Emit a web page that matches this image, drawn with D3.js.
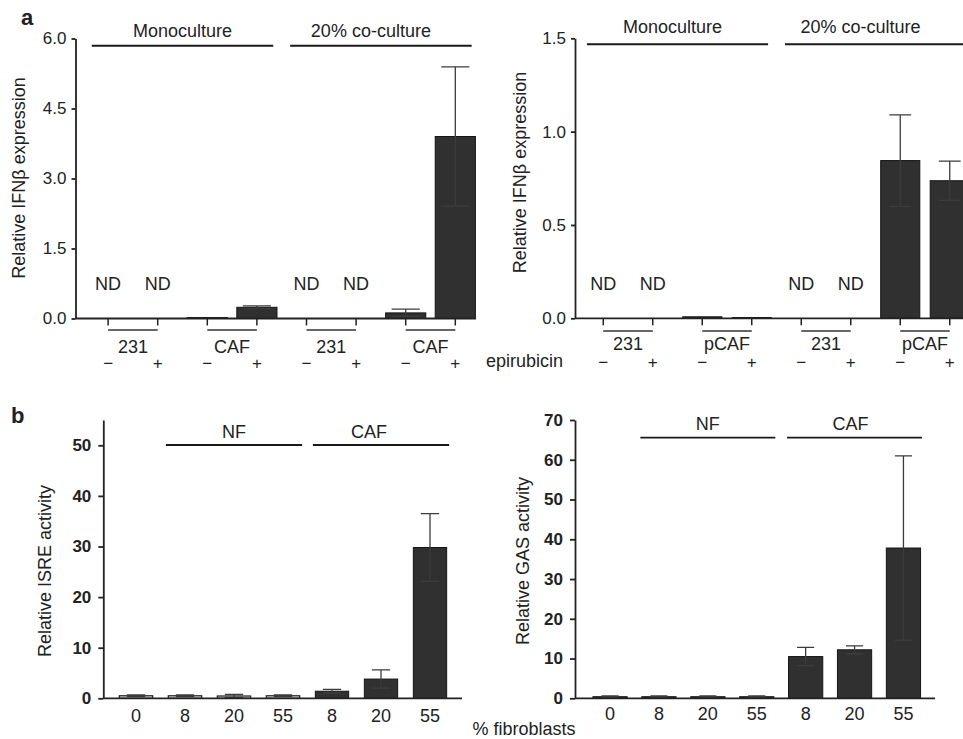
<!DOCTYPE html>
<html>
<head>
<meta charset="utf-8">
<title>IFNβ expression, ISRE and GAS activity</title>
<script src="https://cdn.jsdelivr.net/npm/d3@7"></script>
<style>
  body { margin: 0; background: #fff; }
  svg text { font-family: "Liberation Sans", Arial, sans-serif; fill: #222; }
  .bar { fill: #2f302f; stroke: #151515; stroke-width: 1; }
  .bar.light { fill: #e6e6e6; stroke: #2a2a2a; stroke-width: 1.3; }
  .err { stroke: #3c3c3c; stroke-width: 1.3; fill: none; }
  .axis path, .axis line { stroke: #222; stroke-width: 1.8; }
  .axis text { font-size: 17px; fill: #222; }
  .bold text { font-weight: bold; }
</style>
</head>
<body>
<svg id="chart" width="963" height="739"></svg>
<script>
// ---- panel a: IFNb expression (null = ND, not detected)
var aCells = ["231", "CAF", "231", "CAF"];
var aCellsP = ["231", "pCAF", "231", "pCAF"];
var aTreat = ["\u2212", "+"];
var aCulture = ["Monoculture", "20% co-culture"];
var aTicksLeft = [0, 1.5, 3, 4.5, 6];
var aTicksRight = [0, 0.5, 1, 1.5];
var ifnCaf = [null, null, 0.02, 0.24, null, null, 0.12, 3.9];
var ifnCafErr = [0, 0, 0, 0.03, 0, 0, 0.08, 1.49];
var ifnPcaf = [null, null, 0.008, 0.004, null, null, 0.845, 0.737];
var ifnPcafErr = [0, 0, 0, 0, 0, 0, 0.245, 0.105];

// ---- panel b: reporter activity vs % fibroblasts
var fibroPct = ["0", "8", "20", "55", "8", "20", "55"];
var fibroType = ["NF", "CAF"];
var isre = [0.5, 0.5, 0.45, 0.5, 1.4, 3.8, 29.8];
var isreErr = [0.15, 0.15, 0.3, 0.15, 0.35, 1.8, 6.7];
var gas = [0.4, 0.4, 0.4, 0.4, 10.5, 12.2, 37.8];
var gasErr = [0.2, 0.2, 0.2, 0.2, 2.3, 1.0, 23.2];
var bTicksIsre = [0, 10, 20, 30, 40, 50];
var bTicksGas = [0, 10, 20, 30, 40, 50, 60, 70];

var svg = d3.select("#chart");

function drawPanel(o) {
  var n = o.values.length;
  var y = d3.scaleLinear().domain(o.yDomain).range([o.y0, o.y1]);
  var x = d3.scaleBand()
    .domain(d3.range(n))
    .range([o.xStart, o.xStart + o.step * n])
    .paddingInner(o.pad)
    .paddingOuter(o.pad / 2);
  var bw = x.bandwidth();
  var cx = function(i) { return x(i) + bw / 2; };
  var g = svg.append("g");

  // y axis
  g.append("g")
    .attr("class", "axis" + (o.boldTicks ? " bold" : ""))
    .attr("transform", "translate(" + o.axisX + ",0)")
    .call(d3.axisLeft(y).tickValues(o.ticks).tickFormat(o.fmt)
      .tickSize(o.tickLen).tickSizeOuter(0).tickPadding(o.tickPad));

  // bars
  o.values.forEach(function(v, i) {
    if (v == null) {
      g.append("text")
        .attr("x", cx(i)).attr("y", o.ndY)
        .attr("text-anchor", "middle")
        .style("font-size", "18px")
        .text("ND");
      return;
    }
    g.append("rect")
      .attr("class", "bar" + (o.light && o.light(i) ? " light" : ""))
      .attr("x", x(i)).attr("width", bw)
      .attr("y", y(v)).attr("height", y(0) - y(v));
    var e = o.errs[i];
    if (e > 0) {
      var hw = bw * o.capFrac / 2;
      g.append("path").attr("class", "err")
        .attr("d", "M" + cx(i) + "," + y(v - e) + "V" + y(v + e) +
          "M" + (cx(i) - hw) + "," + y(v + e) + "H" + (cx(i) + hw) +
          "M" + (cx(i) - hw) + "," + y(v - e) + "H" + (cx(i) + hw));
    }
  });

  // x axis baseline
  g.append("line")
    .attr("x1", o.axisX).attr("x2", o.axisEnd)
    .attr("y1", y(0)).attr("y2", y(0))
    .attr("stroke", "#222").attr("stroke-width", 1.8);

  // header groups with lines
  o.headers.forEach(function(h, k) {
    var i0 = k * n / 2 + (o.headerSkip || 0), i1 = (k + 1) * n / 2 - 1;
    if (o.headerSkip && k == 1) { i0 = n - 3; i1 = n - 1; }
    if (o.headerSkip && k == 0) { i0 = 1; i1 = 3; }
    var mid = (cx(i0) + cx(i1)) / 2;
    var half = o.headerHalf * o.step;
    g.append("line")
      .attr("x1", mid - half).attr("x2", mid + half)
      .attr("y1", o.headerLineY).attr("y2", o.headerLineY)
      .attr("stroke", "#1a1a1a").attr("stroke-width", o.headerStroke);
    g.append("text")
      .attr("x", mid + o.headerDx[k]).attr("y", o.headerTextY)
      .attr("text-anchor", "middle")
      .style("font-size", "18px")
      .text(h);
  });

  // category labels under the x axis
  if (o.groups) {
    d3.range(n).forEach(function(i) {
      g.append("line")
        .attr("x1", cx(i)).attr("x2", cx(i))
        .attr("y1", y(0)).attr("y2", y(0) + 7)
        .attr("stroke", "#222").attr("stroke-width", 1.5);
      g.append("text")
        .attr("x", cx(i)).attr("y", o.signY)
        .attr("text-anchor", "middle")
        .style("font-size", "17px")
        .text(aTreat[i % 2]);
    });
    o.groups.forEach(function(name, k) {
      var a = cx(2 * k), b = cx(2 * k + 1);
      g.append("line")
        .attr("x1", a).attr("x2", b)
        .attr("y1", o.groupLineY).attr("y2", o.groupLineY)
        .attr("stroke", "#333").attr("stroke-width", 1.3);
      g.append("text")
        .attr("x", (a + b) / 2).attr("y", o.groupTextY)
        .attr("text-anchor", "middle")
        .style("font-size", "18px")
        .text(name);
    });
  }
  if (o.xLabels) {
    o.xLabels.forEach(function(t, i) {
      g.append("text")
        .attr("x", cx(i)).attr("y", o.xLabelY)
        .attr("text-anchor", "middle")
        .style("font-size", "18px")
        .text(t);
    });
  }

  // y title
  g.append("text")
    .attr("transform", "translate(" + o.titleX + "," + o.titleY + ") rotate(-90)")
    .attr("text-anchor", "middle")
    .style("font-size", "18px")
    .text(o.title);
}

var fmt1 = d3.format(".1f");

drawPanel({
  values: ifnCaf, errs: ifnCafErr, yDomain: [0, 6], y0: 318.5, y1: 38.5,
  ticks: aTicksLeft, fmt: fmt1, tickLen: 4, tickPad: 5,
  axisX: 75.5, axisEnd: 476, xStart: 83.3, step: 49.6, pad: 0.19, capFrac: 0.7,
  ndY: 289.5, headers: aCulture, headerDx: [0, -10], headerHalf: 1.83,
  headerLineY: 45.7, headerTextY: 36.5, headerStroke: 2,
  groups: aCells, groupLineY: 330, groupTextY: 352.5, signY: 369,
  title: "Relative IFN\u03b2 expression", titleX: 25, titleY: 178
});

drawPanel({
  values: ifnPcaf, errs: ifnPcafErr, yDomain: [0, 1.5], y0: 318.3, y1: 38.3,
  ticks: aTicksRight, fmt: fmt1, tickLen: 4, tickPad: 5,
  axisX: 575, axisEnd: 963, xStart: 578.5, step: 49.5, pad: 0.21, capFrac: 0.56,
  ndY: 290, headers: aCulture, headerDx: [-5, -15], headerHalf: 1.83,
  headerLineY: 44.3, headerTextY: 33.3, headerStroke: 2,
  groups: aCellsP, groupLineY: 331, groupTextY: 350, signY: 367.5,
  title: "Relative IFN\u03b2 expression", titleX: 526, titleY: 172.5
});

svg.append("text")
  .attr("x", 563).attr("y", 367)
  .attr("text-anchor", "end")
  .style("font-size", "18px")
  .text("epirubicin");

drawPanel({
  values: isre, errs: isreErr, yDomain: [0, 55], y0: 698.3, y1: 420,
  ticks: bTicksIsre, fmt: d3.format("d"), tickLen: 5, tickPad: 7, boldTicks: true,
  axisX: 103.3, axisEnd: 462, xStart: 111.5, step: 49, pad: 0.32, capFrac: 0.55,
  light: function(i) { return i < 4; },
  headers: fibroType, headerSkip: 1, headerDx: [0, -12], headerHalf: 1.39,
  headerLineY: 445, headerTextY: 437.5, headerStroke: 1.8,
  xLabels: fibroPct, xLabelY: 721.5,
  title: "Relative ISRE activity", titleX: 51, titleY: 571
});

drawPanel({
  values: gas, errs: gasErr, yDomain: [0, 70], y0: 698.3, y1: 420,
  ticks: bTicksGas, fmt: d3.format("d"), tickLen: 5, tickPad: 7, boldTicks: true,
  axisX: 575, axisEnd: 935, xStart: 585.6, step: 48.9, pad: 0.3, capFrac: 0.5,
  headers: fibroType, headerSkip: 1, headerDx: [0, -4], headerHalf: 1.38,
  headerLineY: 437.7, headerTextY: 430, headerStroke: 1.8,
  xLabels: fibroPct, xLabelY: 720,
  title: "Relative GAS activity", titleX: 529, titleY: 561
});

svg.append("text")
  .attr("x", 524).attr("y", 735)
  .attr("text-anchor", "middle")
  .style("font-size", "18px")
  .text("% fibroblasts");

// panel letters
svg.append("text").attr("x", 21).attr("y", 25)
  .style("font-size", "22px").style("font-weight", "bold").text("a");
svg.append("text").attr("x", 11).attr("y", 423)
  .style("font-size", "22px").style("font-weight", "bold").text("b");
</script>
</body>
</html>
